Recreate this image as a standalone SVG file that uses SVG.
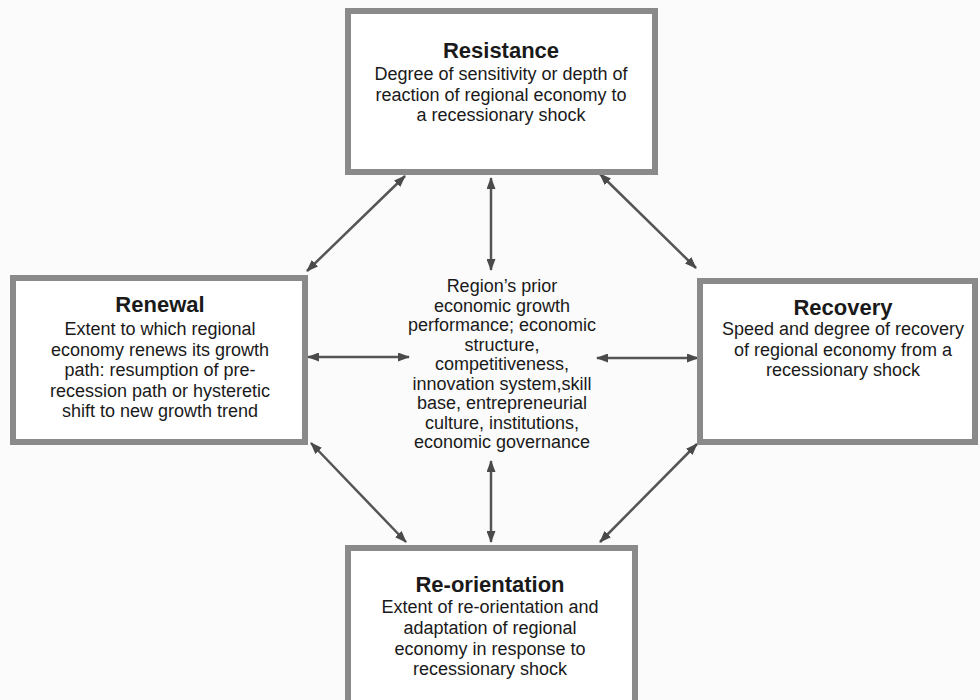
<svg xmlns="http://www.w3.org/2000/svg" width="980" height="700" viewBox="0 0 980 700">
  <defs>
    <marker id="ah" viewBox="0 0 12 9" refX="11" refY="4.5" markerWidth="12" markerHeight="9" markerUnits="userSpaceOnUse" orient="auto-start-reverse">
      <path d="M0,0 L12,4.5 L0,9 z" fill="#4a4a4a"/>
    </marker>
    <style>
      .box { fill: #ffffff; stroke: #8a8a8a; stroke-width: 6; }
      .title { font-family: "Liberation Sans", Arial, sans-serif; font-weight: bold; font-size: 22px; fill: #1a1a1a; text-anchor: middle; }
      .body { font-family: "Liberation Sans", Arial, sans-serif; font-size: 18px; fill: #1a1a1a; text-anchor: middle; }
      .conn { stroke: #555555; stroke-width: 2.5; fill: none; marker-start: url(#ah); marker-end: url(#ah); }
    </style>
  </defs>
  <rect x="0" y="0" width="980" height="700" fill="#fbfbfb"/>

  <g id="connectors">
    <line class="conn" x1="405" y1="176" x2="307" y2="271"/>
    <line class="conn" x1="600" y1="174" x2="696" y2="268"/>
    <line class="conn" x1="491" y1="178" x2="491" y2="270"/>
    <line class="conn" x1="308" y1="357" x2="409" y2="357"/>
    <line class="conn" x1="597" y1="358" x2="698" y2="358"/>
    <line class="conn" x1="491" y1="461" x2="491" y2="542"/>
    <line class="conn" x1="311" y1="443" x2="406" y2="542"/>
    <line class="conn" x1="697" y1="444" x2="600" y2="542"/>
  </g>

  <g id="resistance">
    <rect class="box" x="348" y="11" width="307" height="161"/>
    <text class="title" x="501" y="58">Resistance</text>
    <text class="body" x="501" y="80">Degree of sensitivity or depth of</text>
    <text class="body" x="501" y="101">reaction of regional economy to</text>
    <text class="body" x="501" y="121">a recessionary shock</text>
  </g>

  <g id="renewal">
    <rect class="box" x="13" y="278" width="292" height="164"/>
    <text class="title" x="160" y="312">Renewal</text>
    <text class="body" x="160" y="335">Extent to which regional</text>
    <text class="body" x="160" y="355.5">economy renews its growth</text>
    <text class="body" x="160" y="376">path: resumption of pre-</text>
    <text class="body" x="160" y="396.5">recession path or hysteretic</text>
    <text class="body" x="160" y="417">shift to new growth trend</text>
  </g>

  <g id="recovery">
    <rect class="box" x="700" y="281" width="275" height="161"/>
    <text class="title" x="843" y="315">Recovery</text>
    <text class="body" x="843" y="335">Speed and degree of recovery</text>
    <text class="body" x="843" y="355.5">of regional economy from a</text>
    <text class="body" x="843" y="376">recessionary shock</text>
  </g>

  <g id="reorientation">
    <rect class="box" x="348" y="548" width="287" height="155"/>
    <text class="title" x="490" y="592">Re-orientation</text>
    <text class="body" x="490" y="613">Extent of re-orientation and</text>
    <text class="body" x="490" y="634">adaptation of regional</text>
    <text class="body" x="490" y="655">economy in response to</text>
    <text class="body" x="490" y="675">recessionary shock</text>
  </g>

  <g id="center">
    <text class="body" x="502" y="292">Region’s prior</text>
    <text class="body" x="502" y="311.5">economic growth</text>
    <text class="body" x="502" y="331">performance; economic</text>
    <text class="body" x="502" y="350.5">structure,</text>
    <text class="body" x="502" y="370">competitiveness,</text>
    <text class="body" x="502" y="389.5">innovation system,skill</text>
    <text class="body" x="502" y="409">base, entrepreneurial</text>
    <text class="body" x="502" y="428.5">culture, institutions,</text>
    <text class="body" x="502" y="448">economic governance</text>
  </g>
</svg>
